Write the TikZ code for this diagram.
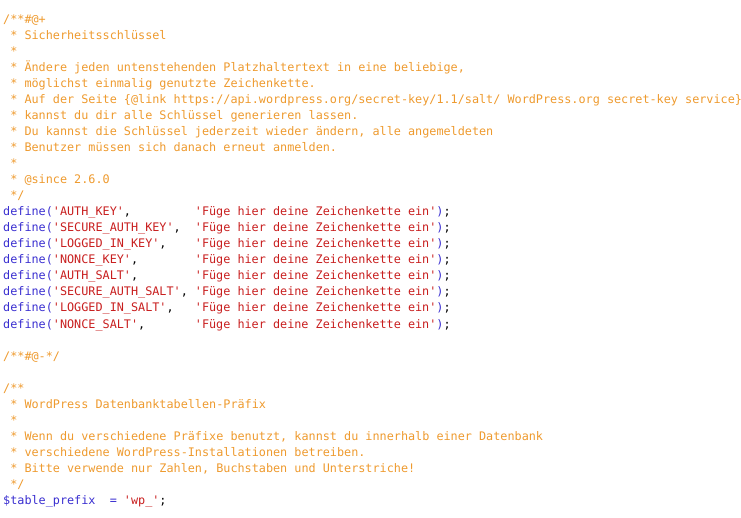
\documentclass[tikz,border=0pt]{standalone}
\usepackage{fontspec}
\newfontfamily\codefont{DejaVu Sans Mono}
\usetikzlibrary{positioning}
\definecolor{cmtorange}{HTML}{EE9A2E}
\definecolor{kwblue}{HTML}{3A2FD0}
\definecolor{strred}{HTML}{C81E1E}
\tikzset{
    codeline/.style={
        anchor=base west, % Grundlinie links
        inner sep=0,
        font=\codefont\fontsize{11.8}{14}\selectfont
    },
    comment/.style={codeline, text=cmtorange}
}

\begin{document}
\begin{tikzpicture}[x=1pt, y=1pt]

\def\lh{16}    % Zeilenhoehe
\def\cw{7.1}   % Zeichenbreite
\def\ytop{-24}

\useasboundingbox (0,0) rectangle (741,-518);

% Kommentarblock oben
\foreach \t [count=\i] in {
    {/**\#@+},
    {\ * Sicherheitsschlüssel},
    {\ *},
    {\ * Ändere jeden untenstehenden Platzhaltertext in eine beliebige,},
    {\ * möglichst einmalig genutzte Zeichenkette.},
    {\ * Auf der Seite \{@link https://api.wordpress.org/secret-key/1.1/salt/ WordPress.org secret-key service\}},
    {\ * kannst du dir alle Schlüssel generieren lassen.},
    {\ * Du kannst die Schlüssel jederzeit wieder ändern, alle angemeldeten},
    {\ * Benutzer müssen sich danach erneut anmelden.},
    {\ *},
    {\ * @since 2.6.0},
    {\ */}}
{
    \pgfmathsetmacro{\y}{\ytop-(\i-1)*\lh}
    \node[comment] (ca\i) at (3,\y) {\t};
}

% define-Zeilen
\foreach \k [count=\i] in {AUTH\_KEY,SECURE\_AUTH\_KEY,LOGGED\_IN\_KEY,NONCE\_KEY,
    AUTH\_SALT,SECURE\_AUTH\_SALT,LOGGED\_IN\_SALT,NONCE\_SALT}
{
    \pgfmathsetmacro{\y}{\ytop-(\i+11)*\lh}
    \node[codeline] (d\i) at (3,\y) {\textcolor{kwblue}{define(}\textcolor{strred}{'\k'},};
    \node[codeline, text=strred] (s\i) at (3+27*\cw,\y)
        {'Füge hier deine Zeichenkette ein'\textcolor{kwblue}{)}\textcolor{black}{;}};
}

\pgfmathsetmacro{\y}{\ytop-21*\lh}
\node[comment] (cb1) at (3,\y) {/**\#@-*/};

% Kommentarblock unten
\foreach \t [count=\i] in {
    {/**},
    {\ * WordPress Datenbanktabellen-Präfix},
    {\ *},
    {\ * Wenn du verschiedene Präfixe benutzt, kannst du innerhalb einer Datenbank},
    {\ * verschiedene WordPress-Installationen betreiben.},
    {\ * Bitte verwende nur Zahlen, Buchstaben und Unterstriche!},
    {\ */}}
{
    \pgfmathsetmacro{\y}{\ytop-(\i+22)*\lh}
    \node[comment] (cc\i) at (3,\y) {\t};
}

\pgfmathsetmacro{\y}{\ytop-30*\lh}
\node[codeline] (tp) at (3,\y) {\textcolor{kwblue}{\$table\_prefix\ \ =} \textcolor{strred}{'wp\_'};};

\end{tikzpicture}
\end{document}
